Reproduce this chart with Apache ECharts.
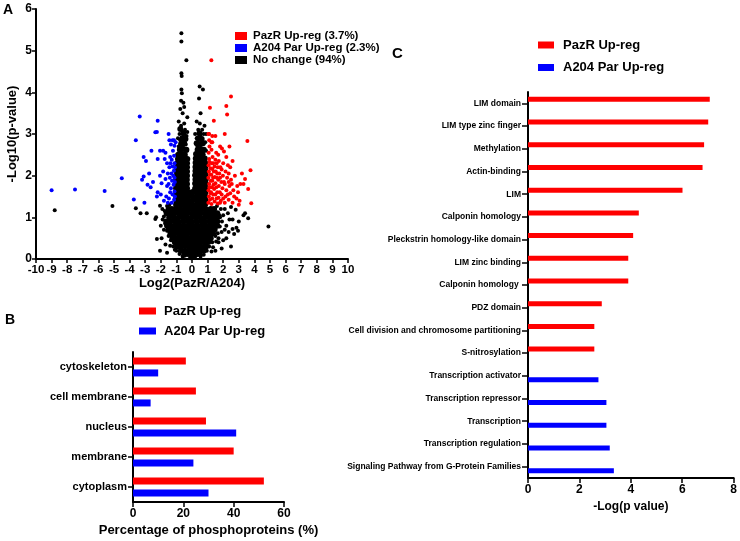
<!DOCTYPE html>
<html>
<head>
<meta charset="utf-8">
<script src="https://cdn.jsdelivr.net/npm/echarts@6/dist/echarts.min.js"></script>
<style>
  html, body { margin: 0; padding: 0; background: #fff; }
  #chart { width: 740px; height: 541px; }
</style>
</head>
<body>
<div id="chart"></div>
<script>
// panel A: volcano plot points [log2 ratio, -log10 p]
const pazrPoints = [
  [1.05,1.35],[1.08,1.5],[1.06,1.65],[1.1,1.8],[1.05,1.95],[1.08,2.1],[1.06,2.25],[1.1,2.4],[1.07,2.55],[1.12,2.7],[1.1,2.85],[1.05,3.0],
  [1.25,1.32],[1.3,1.45],[1.22,1.6],[1.28,1.72],[1.3,1.88],[1.24,2.02],[1.3,2.16],[1.26,2.3],[1.32,2.45],[1.25,2.62],[1.3,2.8],
  [1.45,1.38],[1.5,1.55],[1.42,1.68],[1.5,1.82],[1.46,1.97],[1.52,2.1],[1.44,2.22],[1.5,2.38],[1.55,2.55],[1.5,2.95],[1.4,3.32],
  [1.65,1.33],[1.7,1.47],[1.62,1.6],[1.72,1.75],[1.68,1.9],[1.75,2.05],[1.65,2.2],[1.72,2.35],[1.68,2.5],[1.8,2.7],
  [1.85,1.4],[1.9,1.55],[1.95,1.7],[1.88,1.85],[1.98,2.0],[1.9,2.15],[2.0,2.3],[1.92,2.65],[2.05,2.58],
  [2.1,1.35],[2.15,1.5],[2.2,1.65],[2.1,1.8],[2.25,1.95],[2.15,2.1],[2.3,2.25],[2.2,2.45],[2.1,3.0],[2.2,3.67],[2.25,3.47],
  [2.35,1.42],[2.45,1.58],[2.4,1.75],[2.5,1.9],[2.35,2.05],[2.45,2.2],[2.4,2.7],[2.5,3.9],
  [2.6,1.35],[2.7,1.5],[2.65,1.65],[2.55,1.8],[2.75,2.0],[2.6,2.35],
  [2.85,1.45],[2.95,1.6],[2.9,1.75],[3.1,1.8],[3.05,1.4],[3.3,1.8],[3.2,2.05],
  [3.4,1.92],[3.6,1.68],[3.75,2.13],[3.8,1.34],[3.55,2.83],[3.0,1.3],
  [1.24,4.77],[1.15,3.63],[1.1,3.0],[1.3,2.95],[1.25,2.8],
  [1.15,1.42],[1.18,1.58],[1.12,1.72],[1.2,1.88],[1.15,2.03],[1.18,2.18],[1.12,2.33],[1.36,1.55],[1.38,1.78],[1.35,1.95],
  [1.4,2.1],[1.36,2.3],[1.58,1.45],[1.56,1.72],[1.6,1.95],[1.58,2.3],[1.78,1.6],[1.8,1.95],[1.82,2.2],[2.0,1.45],
  [2.05,1.85],[2.3,1.55],[2.35,1.85],[1.62,2.05],[1.8,1.35]
];
const a204Points = [
  [-9.0,1.65],[-7.5,1.67],[-5.6,1.63],[-4.5,1.94],[-3.73,1.43],[-3.35,3.42],[-3.6,2.85],[-3.05,1.35],[-2.2,3.32],
  [-2.35,3.04],[-2.25,3.05],[-2.6,2.6],[-3.1,2.45],[-2.95,2.35],[-3.1,1.98],[-3.2,1.9],[-2.85,1.78],[-2.65,1.72],
  [-2.75,2.05],[-2.5,1.85],[-2.05,2.6],[-1.85,2.6],[-1.7,2.55],[-1.45,2.85],[-1.25,2.85],[-1.35,2.75],[-2.05,2.0],
  [-1.85,2.1],[-1.7,1.92],[-1.95,1.82],[-2.2,1.6],[-2.25,1.5],[-2.0,1.55],[-1.65,1.5],[-1.55,1.35],[-1.8,1.4],
  [-1.6,2.3],[-1.55,2.05],[-1.75,2.4],[-2.2,2.4],[-1.6,1.75],[-1.5,3.0],
  [-1.3,1.35],[-1.15,1.42],[-1.25,1.55],[-1.12,1.62],[-1.35,1.7],[-1.18,1.78],[-1.28,1.88],[-1.12,1.95],[-1.32,2.05],
  [-1.16,2.12],[-1.25,2.22],[-1.12,2.3],[-1.3,2.38],[-1.15,2.48],[-1.4,2.45],[-1.22,2.6],[-1.12,2.72],[-1.4,1.6],
  [-1.42,1.95],[-1.45,2.2],[-1.48,1.45],[-1.1,1.5],[-1.1,1.85],[-1.1,2.2],[-1.2,2.0],[-1.38,2.3],[-1.5,1.8],
  [-1.05,2.8],[-1.15,2.85]
];
// dense central cloud of unchanged sites
const noChangeCore = [
  [-0.05,0.04],[0.12,0.05],
  [-0.26,0.12],[0.0,0.13],[0.24,0.11],[-0.5,0.1],[0.48,0.12],
  [-0.72,0.2],[-0.46,0.2],[-0.2,0.21],[0.04,0.19],[0.28,0.2],[0.5,0.22],[0.75,0.2],
  [-0.95,0.3],[-0.7,0.3],[-0.43,0.31],[-0.16,0.29],[0.12,0.3],[0.39,0.31],[0.64,0.29],[0.9,0.3],
  [-1.1,0.4],[-0.86,0.4],[-0.58,0.41],[-0.3,0.39],[-0.03,0.4],[0.25,0.41],[0.53,0.39],[0.8,0.4],[1.05,0.41],
  [-1.25,0.5],[-1.0,0.5],[-0.72,0.51],[-0.44,0.49],[-0.17,0.5],[0.11,0.51],[0.4,0.49],[0.68,0.5],[0.95,0.51],[1.2,0.5],
  [-1.38,0.6],[-1.14,0.6],[-0.86,0.61],[-0.58,0.59],[-0.3,0.6],[-0.02,0.61],[0.26,0.59],[0.54,0.6],[0.82,0.61],[1.1,0.6],[1.35,0.61],
  [-1.5,0.7],[-1.25,0.7],[-0.98,0.71],[-0.7,0.69],[-0.42,0.7],[-0.14,0.71],[0.14,0.69],[0.42,0.7],[0.7,0.71],[0.98,0.69],[1.22,0.7],[1.45,0.71],
  [-1.6,0.8],[-1.35,0.8],[-1.06,0.81],[-0.78,0.79],[-0.5,0.8],[-0.22,0.81],[0.06,0.79],[0.34,0.8],[0.62,0.81],[0.9,0.79],[1.18,0.8],[1.42,0.81],[1.62,0.8],
  [-1.65,0.9],[-1.4,0.9],[-1.12,0.91],[-0.84,0.89],[-0.56,0.9],[-0.28,0.91],[0.0,0.89],[0.28,0.9],[0.56,0.91],[0.84,0.89],[1.12,0.9],[1.38,0.91],[1.62,0.9],
  [-1.46,1.0],[-1.17,1.01],[-0.88,0.99],[-0.6,1.0],[-0.32,1.01],[-0.04,0.99],[0.24,1.0],[0.52,1.01],[0.8,0.99],[1.08,1.0],[1.35,1.01],[1.6,0.99],
  [-1.62,1.1],[-1.4,1.1],[-1.12,1.11],[-0.84,1.09],[-0.56,1.1],[-0.28,1.11],[0.0,1.09],[0.28,1.1],[0.56,1.11],[0.84,1.09],[1.12,1.1],[1.4,1.11],[1.62,1.1],
  [-1.5,1.2],[-1.3,1.2],[-1.02,1.21],[-0.74,1.19],[-0.46,1.2],[-0.18,1.21],[0.1,1.19],[0.38,1.2],[0.66,1.21],[0.92,1.19],[1.2,1.2],[1.42,1.2],
  [-1.02,1.3],[-0.76,1.31],[-0.5,1.29],[-0.24,1.3],[0.02,1.31],[0.3,1.29],[0.58,1.3],[0.84,1.31],
  [-1.0,1.4],[-0.74,1.41],[-0.48,1.39],[-0.22,1.4],[0.04,1.41],[0.32,1.39],[0.6,1.4],[0.86,1.41],
  [-1.02,1.5],[-0.76,1.51],[-0.5,1.49],[-0.24,1.5],[0.02,1.51],[0.3,1.49],[0.58,1.5],[0.84,1.51],
  [-1.0,1.6],[-0.74,1.61],[-0.48,1.59],[-0.22,1.6],[0.04,1.61],[0.32,1.59],[0.6,1.6],[0.86,1.61],
  [-1.02,1.7],[-0.76,1.71],[-0.52,1.69],[-0.32,1.7],[0.2,1.69],[0.46,1.7],[0.7,1.71],[0.88,1.69],
  [-1.0,1.8],[-0.76,1.81],[-0.54,1.79],[-0.32,1.8],[0.2,1.81],[0.45,1.79],[0.68,1.8],[0.88,1.81],
  [-1.02,1.9],[-0.78,1.91],[-0.55,1.89],[-0.33,1.9],[0.22,1.91],[0.46,1.89],[0.7,1.9],[0.88,1.91],
  [-1.0,2.0],[-0.76,2.01],[-0.54,1.99],[-0.32,2.0],[0.2,2.01],[0.45,1.99],[0.68,2.0],[0.86,2.01],
  [-0.98,2.1],[-0.75,2.11],[-0.53,2.09],[-0.32,2.1],[0.22,2.11],[0.46,2.09],[0.68,2.1],[0.86,2.11],
  [-0.96,2.2],[-0.73,2.21],[-0.52,2.19],[-0.32,2.2],[0.22,2.21],[0.45,2.19],[0.67,2.2],[0.85,2.21],
  [-0.94,2.3],[-0.71,2.31],[-0.5,2.29],[-0.32,2.3],[0.23,2.31],[0.45,2.29],[0.66,2.3],[0.84,2.31],
  [-0.9,2.4],[-0.68,2.41],[-0.48,2.39],[-0.3,2.4],[0.24,2.41],[0.46,2.39],[0.66,2.4],[0.82,2.41],
  [-0.88,2.5],[-0.66,2.52],[-0.46,2.5],[-0.78,2.62],[-0.56,2.64],[-0.36,2.62],[-0.7,2.76],[-0.5,2.78],
  [-0.62,2.9],[-0.42,2.88],[-0.55,3.02],[-0.75,3.12],
  [0.26,2.52],[0.46,2.5],[0.66,2.52],[0.36,2.62],[0.56,2.64],[0.76,2.62],[0.3,2.78],[0.5,2.76],[0.7,2.78],
  [0.4,2.9],[0.62,2.88],[0.48,3.02]
];
const noChangeSparse = [
  [-8.8,1.17],[-5.1,1.27],[4.9,0.78],[-3.6,1.22],[-3.3,1.1],[-2.9,1.1],[-2.3,1.0],[-2.35,0.96],[-2.25,0.48],
  [-2.05,0.2],[-1.95,0.5],[-1.8,0.7],[-1.9,1.2],[-2.05,1.28],[-1.7,0.35],[-1.6,0.15],
  [3.4,1.1],[3.3,1.05],[3.0,0.9],[2.85,0.75],[2.95,0.68],[2.7,0.6],[2.6,0.72],[2.8,1.18],[2.5,1.25],[2.3,1.1],
  [2.4,0.95],[2.2,0.8],[2.0,0.45],[2.2,0.5],[2.5,0.3],[1.9,0.25],[2.6,0.95],[2.1,1.2],[1.8,1.0],[1.9,0.65],
  [2.35,0.65],[3.6,0.98],[1.7,0.4],[1.5,0.2],
  [-1.2,0.3],[-1.35,0.45],[-1.5,0.55],[-1.6,0.68],[-1.72,0.85],[-1.8,1.02],[-1.75,1.15],[-1.6,1.27],[-1.45,1.3],
  [-1.0,0.2],[-0.8,0.12],[-0.6,0.06],[-1.1,0.22],[-1.88,0.95],[-2.0,0.8],[-1.4,0.32],
  [0.75,0.1],[0.95,0.2],[1.1,0.3],[1.3,0.4],[1.5,0.55],[1.65,0.62],[1.78,0.78],[1.75,1.05],[1.85,1.2],
  [1.6,1.27],[1.7,0.5],[1.35,0.28],[0.55,0.06],[2.0,1.05],[1.92,0.9],[2.1,0.7],[1.55,0.42],[1.25,0.18],
  [-0.95,2.5],[-0.7,2.55],[-0.5,2.5],[-0.32,2.6],[-0.85,2.7],[-0.6,2.7],[-0.4,2.75],[-0.75,2.85],[-0.55,2.9],
  [-0.35,2.95],[-0.8,3.0],[-0.6,3.05],[-0.45,3.1],[-0.7,3.2],[-0.5,3.25],[-0.85,3.3],[-0.3,3.05],[-0.9,2.9],
  [0.25,2.5],[0.5,2.55],[0.75,2.5],[0.9,2.6],[0.35,2.7],[0.6,2.75],[0.85,2.8],[0.3,2.9],[0.55,2.95],[0.75,3.0],
  [0.4,3.1],[0.65,3.1],[0.2,3.0],[0.9,3.0],[0.5,3.25],
  [-0.6,3.5],[-0.5,3.65],[-0.7,3.8],[-0.55,3.75],[-0.65,3.98],[-0.68,4.07],[-0.66,4.39],[-0.68,4.46],[-0.36,4.77],
  [-0.68,5.22],[-0.68,5.42],[0.7,4.07],[0.49,4.14],[0.45,3.85],[0.55,3.5],[0.3,3.3],[-0.3,3.4],[-0.75,3.6],[0.8,3.2]
];

// panel B: subcellular location (%)
const locCategories = ['cytoskeleton', 'cell membrane', 'nucleus', 'membrane', 'cytoplasm'];
const locPazR = [21, 25, 29, 40, 52];
const locA204 = [10, 7, 41, 24, 30];

// panel C: enriched terms, -log(p)
const termCategories = [
  'LIM domain', 'LIM type zinc finger', 'Methylation', 'Actin-binding', 'LIM', 'Calponin homology',
  'Pleckstrin homology-like domain', 'LIM zinc binding', 'Calponin homology ', 'PDZ domain',
  'Cell division and chromosome partitioning', 'S-nitrosylation', 'Transcription activator',
  'Transcription repressor', 'Transcription', 'Transcription regulation',
  'Signaling Pathway from G-Protein Families'
];
const termPazR = [7.07, 7.01, 6.85, 6.79, 6.01, 4.31, 4.09, 3.9, 3.9, 2.87, 2.58, 2.58, null, null, null, null, null];
const termA204 = [null, null, null, null, null, null, null, null, null, null, null, null, 2.74, 3.05, 3.05, 3.18, 3.34];

const FONT = "'Liberation Sans', Arial, sans-serif";
const RED = '#ff0000';
const BLUE = '#0000ff';

const axisLine = { show: true, onZero: false, lineStyle: { color: '#000', width: 2 } };
const axisTick = { show: true, length: 4, lineStyle: { color: '#000', width: 1.5 } };
const lbl = (size) => ({ color: '#000', fontWeight: 'bold', fontSize: size, fontFamily: FONT });

const chart = echarts.init(document.getElementById('chart'), null, { renderer: 'canvas' });

const option = {
  animation: false,
  backgroundColor: '#fff',
  textStyle: { fontFamily: FONT },
  grid: [
    { left: 36, top: 9, width: 312, height: 250 },
    { left: 133, top: 352, width: 151, height: 150 },
    { left: 528, top: 92, width: 208, height: 386 }
  ],
  xAxis: [
    {
      gridIndex: 0, type: 'value', min: -10, max: 10, interval: 1,
      axisLine, axisTick, splitLine: { show: false },
      axisLabel: { ...lbl(11.5), margin: 5 },
      name: 'Log2(PazR/A204)', nameLocation: 'middle', nameGap: 18,
      nameTextStyle: lbl(13)
    },
    {
      gridIndex: 1, type: 'value', min: 0, max: 60, interval: 20,
      axisLine, axisTick: { ...axisTick, length: 5 }, splitLine: { show: false },
      axisLabel: { ...lbl(12), margin: 6 },
      name: 'Percentage of phosphoproteins (%)', nameLocation: 'middle', nameGap: 22,
      nameTextStyle: lbl(13)
    },
    {
      gridIndex: 2, type: 'value', min: 0, max: 8, interval: 2,
      axisLine, axisTick: { ...axisTick, length: 5 }, splitLine: { show: false },
      axisLabel: { ...lbl(12), margin: 6 },
      name: '-Log(p value)', nameLocation: 'middle', nameGap: 22,
      nameTextStyle: lbl(12)
    }
  ],
  yAxis: [
    {
      gridIndex: 0, type: 'value', min: 0, max: 6, interval: 1,
      axisLine, axisTick, splitLine: { show: false },
      axisLabel: { ...lbl(12), margin: 4 },
      name: '-Log10(p-value)', nameLocation: 'middle', nameGap: 17,
      nameTextStyle: lbl(13)
    },
    {
      gridIndex: 1, type: 'category', data: locCategories, inverse: true,
      axisLine, axisTick: { ...axisTick, length: 5, alignWithLabel: true },
      axisLabel: { ...lbl(11), margin: 6 }
    },
    {
      gridIndex: 2, type: 'category', data: termCategories, inverse: true,
      axisLine, axisTick: { ...axisTick, length: 6, alignWithLabel: true },
      axisLabel: { ...lbl(8.5), margin: 7 }
    }
  ],
  legend: [
    {
      data: ['PazR Up-reg (3.7%)', 'A204 Par Up-reg (2.3%)', 'No change (94%)'],
      orient: 'vertical', left: 235, top: 30, padding: 0,
      icon: 'rect', itemWidth: 12, itemHeight: 8, itemGap: 0,
      textStyle: { ...lbl(11.5), lineHeight: 11, padding: [0, 0, 0, 1] },
      selectedMode: false
    },
    {
      data: ['PazR Up-reg', 'A204 Par Up-reg'],
      orient: 'vertical', left: 139, top: 304, padding: 0,
      icon: 'rect', itemWidth: 17, itemHeight: 7, itemGap: 6,
      textStyle: { ...lbl(13), lineHeight: 14, padding: [0, 0, 0, 3] },
      selectedMode: false
    },
    {
      data: ['PazR Up-reg', 'A204 Par Up-reg'],
      orient: 'vertical', left: 538, top: 38, padding: 0,
      icon: 'rect', itemWidth: 16, itemHeight: 7, itemGap: 8.5,
      textStyle: { ...lbl(13), lineHeight: 14, padding: [0, 0, 0, 4] },
      selectedMode: false
    }
  ],
  graphic: [
    { type: 'text', left: 3, top: 3, style: { text: 'A', font: 'bold 14px ' + FONT, fill: '#000' } },
    { type: 'text', left: 5, top: 313, style: { text: 'B', font: 'bold 14px ' + FONT, fill: '#000' } },
    { type: 'text', left: 392, top: 46, style: { text: 'C', font: 'bold 15px ' + FONT, fill: '#000' } }
  ],
  series: [
    {
      name: 'No change (94%)', type: 'scatter', xAxisIndex: 0, yAxisIndex: 0,
      data: noChangeCore, symbolSize: 6, itemStyle: { color: '#000', opacity: 1 }
    },
    {
      name: 'No change (94%)', type: 'scatter', xAxisIndex: 0, yAxisIndex: 0,
      data: noChangeSparse, symbolSize: 4, itemStyle: { color: '#000', opacity: 1 }
    },
    {
      name: 'A204 Par Up-reg (2.3%)', type: 'scatter', xAxisIndex: 0, yAxisIndex: 0,
      data: a204Points, symbolSize: 4, itemStyle: { color: BLUE, opacity: 1 }
    },
    {
      name: 'PazR Up-reg (3.7%)', type: 'scatter', xAxisIndex: 0, yAxisIndex: 0,
      data: pazrPoints, symbolSize: 4, itemStyle: { color: RED, opacity: 1 }
    },
    {
      name: 'PazR Up-reg', type: 'bar', xAxisIndex: 1, yAxisIndex: 1,
      data: locPazR, barWidth: 7, barGap: '70%', itemStyle: { color: RED }
    },
    {
      name: 'A204 Par Up-reg', type: 'bar', xAxisIndex: 1, yAxisIndex: 1,
      data: locA204, barWidth: 7, barGap: '70%', itemStyle: { color: BLUE }
    },
    {
      name: 'PazR Up-reg', type: 'bar', xAxisIndex: 2, yAxisIndex: 2,
      data: termPazR, barWidth: 5, barGap: '60%', itemStyle: { color: RED }
    },
    {
      name: 'A204 Par Up-reg', type: 'bar', xAxisIndex: 2, yAxisIndex: 2,
      data: termA204, barWidth: 5, barGap: '60%', itemStyle: { color: BLUE }
    }
  ]
};

chart.setOption(option);
</script>
</body>
</html>
